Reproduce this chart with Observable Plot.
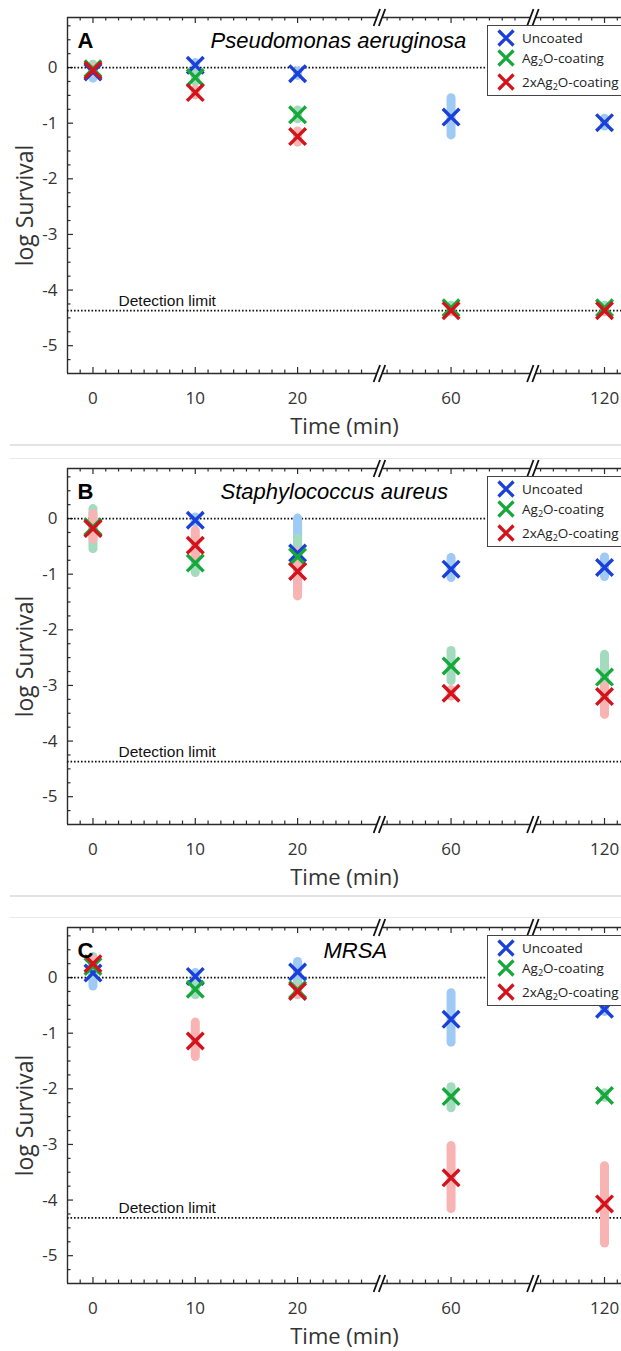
<!DOCTYPE html>
<html><head><meta charset="utf-8">
<script src="https://cdn.jsdelivr.net/npm/d3@7"></script>
<script src="https://cdn.jsdelivr.net/npm/@observablehq/plot@0.6"></script>
<style>
body{margin:0;background:#fff;}
#wrap{position:relative;width:621px;height:1351px;overflow:hidden;background:#fff;}
.panel{position:absolute;left:0;}
.sepB{position:absolute;left:10px;width:640px;height:0;border-top:2px solid #e3e3e3;}
.sepT{position:absolute;left:10px;width:640px;height:0;border-top:1px solid #e8e8e8;}
.legend{position:absolute;left:487px;width:150px;height:71px;border:1.5px solid #444;background:#fff;font-family:'Open Sans';font-size:13.5px;color:#222;box-sizing:border-box;}
.legend .row{position:absolute;left:9px;height:18px;display:flex;align-items:center;white-space:nowrap;}
.legend .row svg{margin-right:7px;}
.legend sub{font-size:9px;vertical-align:-3px;line-height:0;}
</style>
</head><body>
<div id="wrap"></div>
<script>
// ---------- data ----------
const times = [0, 10, 20, 60, 120];
const timeAxisPos = [0, 10, 20, 35, 50];          // broken-axis positions
const timeTickLabels = ["0", "10", "20", "60", "120"];
const axisBreaks = [28, 43];
const yTickValues = [-5, -4, -3, -2, -1, 0];
const seriesNames = ["Uncoated", "Ag2O-coating", "2xAg2O-coating"];
const seriesColors = ["#1b3fd9", "#17a83b", "#d3121b"];
const errorColors = ["#9fcaf3", "#a3dbbf", "#f8b3b3"];

// Panel A: Pseudomonas aeruginosa
const paUncoatedMean = [-0.08, 0.04, -0.11, -0.89, -0.99];
const paUncoatedLo   = [-0.20, 0.00, -0.15, -1.22, -1.06];
const paUncoatedHi   = [0.02, 0.08, -0.07, -0.55, -0.92];
const paAgMean = [-0.02, -0.18, -0.85, -4.32, -4.32];
const paAgLo   = [-0.10, -0.26, -0.93, -4.36, -4.36];
const paAgHi   = [0.05, -0.10, -0.77, -4.28, -4.28];
const pa2AgMean = [-0.05, -0.45, -1.24, -4.37, -4.37];
const pa2AgLo   = [-0.10, -0.50, -1.35, -4.40, -4.40];
const pa2AgHi   = [0.00, -0.40, -1.15, -4.34, -4.34];
const paDetection = -4.37;

// Panel B: Staphylococcus aureus
const saUncoatedMean = [-0.17, -0.03, -0.62, -0.91, -0.88];
const saUncoatedLo   = [-0.25, -0.08, -1.28, -1.07, -1.05];
const saUncoatedHi   = [-0.10, 0.02, 0.00, -0.71, -0.70];
const saAgMean = [-0.15, -0.80, -0.69, -2.65, -2.85];
const saAgLo   = [-0.55, -0.98, -1.00, -2.92, -3.02];
const saAgHi   = [0.17, -0.55, -0.36, -2.38, -2.45];
const sa2AgMean = [-0.18, -0.48, -0.95, -3.14, -3.20];
const sa2AgLo   = [-0.38, -0.70, -1.40, -3.20, -3.53];
const sa2AgHi   = [0.08, -0.22, -0.60, -3.08, -3.02];
const saDetection = -4.37;

// Panel C: MRSA
const mrUncoatedMean = [0.08, 0.02, 0.10, -0.75, -0.57];
const mrUncoatedLo   = [-0.16, -0.05, -0.10, -1.17, -0.62];
const mrUncoatedHi   = [0.20, 0.08, 0.28, -0.28, -0.52];
const mrAgMean = [0.20, -0.21, -0.22, -2.14, -2.12];
const mrAgLo   = [0.05, -0.32, -0.32, -2.35, -2.16];
const mrAgHi   = [0.37, -0.10, -0.12, -1.97, -2.08];
const mr2AgMean = [0.25, -1.14, -0.25, -3.60, -4.07];
const mr2AgLo   = [0.15, -1.43, -0.30, -4.16, -4.78];
const mr2AgHi   = [0.33, -0.81, -0.20, -3.03, -3.39];
const mrDetection = -4.32;

// ---------- layout ----------
const W = 621, PH = 445, MT = 17, MB = 72, ML = 67;
const xDomain = [-2.49, 51.66];
const yDomain = [-5.5, 0.9];
const kx = (xDomain[1] - xDomain[0]) / (W - ML);
const ky = (yDomain[1] - yDomain[0]) / (PH - MT - MB);
const [xmin, xmax] = xDomain, [ymin, ymax] = yDomain;

const panels = [
  {letter: "A", title: "Pseudomonas aeruginosa", titleDx: 143, top: 0,
   mean: [paUncoatedMean, paAgMean, pa2AgMean], lo: [paUncoatedLo, paAgLo, pa2AgLo], hi: [paUncoatedHi, paAgHi, pa2AgHi], det: paDetection},
  {letter: "B", title: "Staphylococcus aureus", titleDx: 153, top: 451,
   mean: [saUncoatedMean, saAgMean, sa2AgMean], lo: [saUncoatedLo, saAgLo, sa2AgLo], hi: [saUncoatedHi, saAgHi, sa2AgHi], det: saDetection},
  {letter: "C", title: "MRSA", titleDx: 256, top: 910,
   mean: [mrUncoatedMean, mrAgMean, mr2AgMean], lo: [mrUncoatedLo, mrAgLo, mr2AgLo], hi: [mrUncoatedHi, mrAgHi, mr2AgHi], det: mrDetection}
];

const nearBreak = v => axisBreaks.some(b => Math.abs(v - b) < 0.7);
const xMajor = timeAxisPos;
const xMinor = d3.range(-1.25, xmax, 1.25).filter(v => !xMajor.some(m => Math.abs(m - v) < 1e-6) && !nearBreak(v));
const yMajor = yTickValues;
const yMinor = d3.range(-5.25, ymax, 0.25).filter(v => !yMajor.some(m => Math.abs(m - v) < 1e-6));

const slashes = axisBreaks.flatMap(b => [ymin, ymax].flatMap(ye => [-2.6, 2.6].map(o => ({
  x1: b + (o - 3.2) * kx, y1: ye - 8.5 * ky, x2: b + (o + 3.2) * kx, y2: ye + 8.5 * ky
}))));

const wrap = document.getElementById("wrap");
const ink = "#2b2b2b";

panels.forEach((p, pi) => {
  const rows = seriesNames.map((name, s) => times.map((t, i) => ({
    s, name, time: t, pos: timeAxisPos[i], mean: p.mean[s][i], lo: p.lo[s][i], hi: p.hi[s][i]
  })));

  const marks = [
    // frame (top, bottom, left)
    Plot.ruleY([ymin, ymax], {x1: xmin, x2: xmax + 1, stroke: ink, strokeWidth: 1.4}),
    Plot.ruleX([xmin], {y1: ymin, y2: ymax, stroke: ink, strokeWidth: 1.4}),
    // ticks (inward)
    Plot.ruleX(xMajor, {x: d => d, y1: ymin, y2: ymin + 6 * ky, stroke: ink, strokeWidth: 1.2}),
    Plot.ruleX(xMinor, {x: d => d, y1: ymin, y2: ymin + 3.5 * ky, stroke: ink, strokeWidth: 1.2}),
    Plot.ruleX(xMajor, {x: d => d, y1: ymax, y2: ymax - 6 * ky, stroke: ink, strokeWidth: 1.2}),
    Plot.ruleX(xMinor, {x: d => d, y1: ymax, y2: ymax - 3.5 * ky, stroke: ink, strokeWidth: 1.2}),
    Plot.ruleY(yMajor, {y: d => d, x1: xmin, x2: xmin + 6 * kx, stroke: ink, strokeWidth: 1.2}),
    Plot.ruleY(yMinor, {y: d => d, x1: xmin, x2: xmin + 3.5 * kx, stroke: ink, strokeWidth: 1.2}),
    // axis breaks
    Plot.ruleX(axisBreaks, {x: d => d, y1: ymin - 2.5 * ky, y2: ymin + 2.5 * ky, stroke: "white", strokeWidth: 6}),
    Plot.ruleX(axisBreaks, {x: d => d, y1: ymax - 2.5 * ky, y2: ymax + 2.5 * ky, stroke: "white", strokeWidth: 6}),
    Plot.link(slashes, {x1: "x1", y1: "y1", x2: "x2", y2: "y2", stroke: "#111", strokeWidth: 1.8}),
    // reference lines
    Plot.ruleY([0], {x1: xmin, x2: xmax, stroke: "#111", strokeWidth: 1.7, strokeDasharray: "1.6,1.9"}),
    Plot.ruleY([p.det], {x1: xmin, x2: xmax, stroke: "#111", strokeWidth: 1.7, strokeDasharray: "1.6,1.9"}),
    Plot.text(["Detection limit"], {x: 2.5, y: p.det, dy: -10, text: d => d, textAnchor: "start",
      fontSize: 15.5, fontFamily: "Liberation Sans", fill: "#111"}),
    // error bands
    ...rows.map((r, s) => Plot.ruleX(r, {x: "pos", y1: "lo", y2: "hi", stroke: errorColors[s],
      strokeWidth: 9, strokeLinecap: "round"})),
    // markers
    ...rows.map((r, s) => Plot.dot(r, {x: "pos", y: "mean", symbol: "times", r: 7.6,
      stroke: seriesColors[s], strokeWidth: 3.4, fill: "none"})),
    // panel letter and title
    Plot.text([p.letter], {frameAnchor: "top-left", dx: 10, dy: 23, text: d => d, textAnchor: "start",
      lineAnchor: "middle", fontSize: 22, fontWeight: "bold", fontFamily: "Liberation Sans", fill: "#000"}),
    Plot.text([p.title], {frameAnchor: "top-left", dx: p.titleDx, dy: 23, text: d => d, textAnchor: "start",
      lineAnchor: "middle", fontSize: 22, fontStyle: "italic", fontFamily: "Liberation Sans", fill: "#000"}),
    // axis labels
    Plot.text(["log Survival"], {frameAnchor: "left", dx: -42, dy: 10, rotate: -90, text: d => d,
      textAnchor: "middle", lineAnchor: "middle", fontSize: 23, fontFamily: "Open Sans", fill: "#333"}),
    Plot.text(["Time (min)"], {frameAnchor: "bottom", dy: 53, text: d => d, textAnchor: "middle",
      lineAnchor: "middle", fontSize: 22, fontFamily: "Open Sans", fill: "#333"})
  ];

  const chart = Plot.plot({
    width: W, height: PH,
    marginTop: MT, marginBottom: MB, marginLeft: ML, marginRight: 0,
    style: {fontFamily: "'Open Sans'", fontSize: "17px", color: "#333", background: "transparent", overflow: "visible"},
    x: {domain: xDomain, ticks: timeAxisPos, tickFormat: d => timeTickLabels[timeAxisPos.indexOf(d)],
        tickSize: 0, tickPadding: 18, label: null},
    y: {domain: yDomain, ticks: yTickValues, tickFormat: d => String(d), tickSize: 0, tickPadding: 10, label: null},
    marks
  });
  const holder = document.createElement("div");
  holder.className = "panel";
  holder.style.top = p.top + "px";
  holder.appendChild(chart);
  wrap.appendChild(holder);

  // legend
  const lg = document.createElement("div");
  lg.className = "legend";
  lg.style.top = (p.top + MT + 8) + "px";
  const rowTops = [3, 23, 47];
  const labelsHtml = ["Uncoated", "Ag<sub>2</sub>O-coating", "2xAg<sub>2</sub>O-coating"];
  seriesNames.forEach((name, s) => {
    const row = document.createElement("div");
    row.className = "row";
    row.style.top = rowTops[s] + "px";
    row.innerHTML = `<svg width="18" height="18" viewBox="0 0 18 18"><path d="M1.5,1.5L16.5,16.5M16.5,1.5L1.5,16.5" stroke="${seriesColors[s]}" stroke-width="3.3" fill="none"/></svg><span>${labelsHtml[s]}</span>`;
    lg.appendChild(row);
  });
  wrap.appendChild(lg);

  // separators
  if (pi < 2) {
    const sb = document.createElement("div");
    sb.className = "sepB";
    sb.style.top = (p.top + PH - 1) + "px";
    wrap.appendChild(sb);
  }
  if (pi > 0) {
    const st = document.createElement("div");
    st.className = "sepT";
    st.style.top = (p.top + 7) + "px";
    wrap.appendChild(st);
  }
});
</script>
</body></html>
